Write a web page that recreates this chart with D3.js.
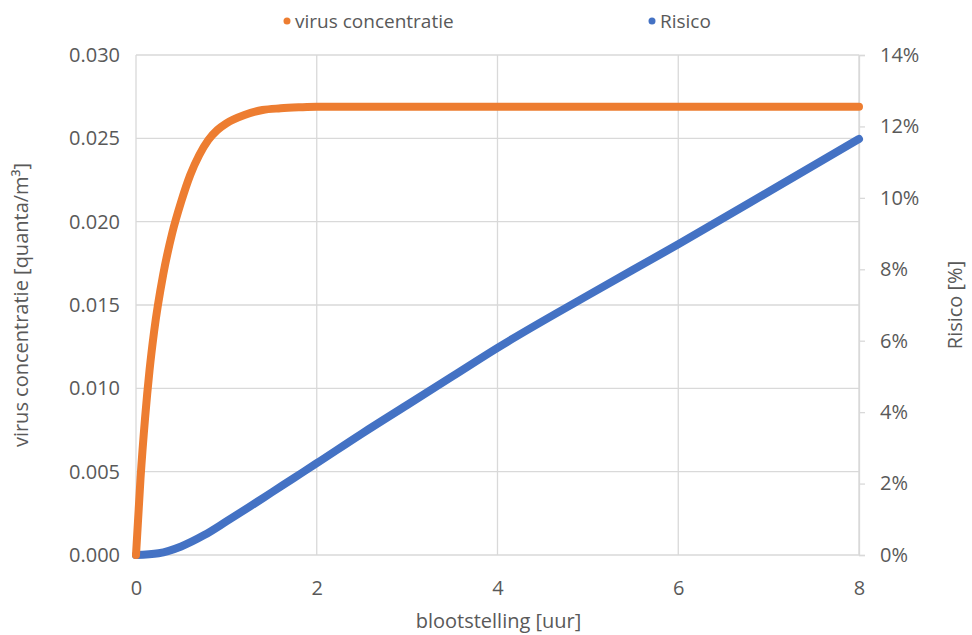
<!DOCTYPE html>
<html>
<head>
<meta charset="utf-8">
<script src="https://cdn.jsdelivr.net/npm/d3@7"></script>
<style>
html,body{margin:0;padding:0;background:#fff;}
svg{display:block;}
text{font-family:"Open Sans",sans-serif;fill:#595959;}
</style>
</head>
<body>
<svg id="chart" width="972" height="635"></svg>
<script>
// exposure time [h]
const concTime = [0, 0.05, 0.1, 0.15, 0.2, 0.3, 0.4, 0.5, 0.6, 0.7, 0.8, 0.9, 1.0, 1.2, 1.4, 1.6, 1.8, 2.0, 2.5, 3, 4, 5, 6, 7, 8];
// virus concentration [quanta/m3]
const concValues = [0, 0.0046, 0.0082, 0.0111, 0.0134, 0.0168, 0.0193, 0.0212, 0.0228, 0.0240, 0.0249, 0.0255, 0.0259, 0.0264, 0.0267, 0.0268, 0.02686, 0.0269, 0.0269, 0.0269, 0.0269, 0.0269, 0.0269, 0.0269, 0.0269];
const riskTime = [0, 0.25, 0.5, 0.75, 1.0, 1.25, 1.5, 1.75, 2, 2.5, 3, 3.5, 4, 5, 6, 7, 8];
// risk [%]
const riskValues = [0, 0.05, 0.24, 0.55, 0.94, 1.34, 1.75, 2.16, 2.57, 3.4, 4.2, 5.0, 5.8, 7.27, 8.7, 10.17, 11.65];

const xTicks = [0, 2, 4, 6, 8];
const leftTicks = [0, 0.005, 0.010, 0.015, 0.020, 0.025, 0.030];
const rightTicks = [0, 2, 4, 6, 8, 10, 12, 14];
const seriesNames = ["virus concentratie", "Risico"];
const seriesColors = ["#ED7D31", "#4472C4"];
const xTitle = "blootstelling [uur]";
const leftTitle = "virus concentratie [quanta/m³]";
const rightTitle = "Risico [%]";

const svg = d3.select("#chart");
const L = 136, R = 859, T = 55, B = 555;

const x = d3.scaleLinear().domain([0, 8]).range([L, R]);
const yL = d3.scaleLinear().domain([0, 0.030]).range([B, T]);
const yR = d3.scaleLinear().domain([0, 14]).range([B, T]);

const grid = svg.append("g");
grid.selectAll("line.h").data(leftTicks).join("line")
  .attr("x1", L).attr("x2", R)
  .attr("y1", d => yL(d)).attr("y2", d => yL(d))
  .attr("stroke", "#d9d9d9").attr("stroke-width", 1.3);
grid.selectAll("line.v").data(xTicks).join("line")
  .attr("y1", T).attr("y2", B)
  .attr("x1", d => x(d)).attr("x2", d => x(d))
  .attr("stroke", "#d9d9d9").attr("stroke-width", 1.3);

const fs = 20, fsLegend = 19;
const gl = svg.append("g").attr("transform", `translate(${L},0)`)
  .call(d3.axisLeft(yL).tickValues(leftTicks).tickFormat(d3.format(".3f")).tickSize(0).tickPadding(16));
gl.select(".domain").remove();
gl.selectAll("text").attr("font-size", fs).attr("font-family", "Open Sans").attr("fill", "#595959");

const gr = svg.append("g").attr("transform", `translate(${R},0)`)
  .call(d3.axisRight(yR).tickValues(rightTicks).tickFormat(d => d + "%").tickSize(6).tickPadding(15));
gr.select(".domain").attr("stroke", "#d9d9d9").attr("stroke-width", 1.3);
gr.selectAll(".tick line").attr("stroke", "#d9d9d9").attr("stroke-width", 1.3);
gr.selectAll("text").attr("font-size", fs).attr("font-family", "Open Sans").attr("fill", "#595959");

const gb = svg.append("g").attr("transform", `translate(0,${B})`)
  .call(d3.axisBottom(x).tickValues(xTicks).tickFormat(d3.format("d")).tickSize(0).tickPadding(26));
gb.select(".domain").remove();
gb.selectAll("text").attr("font-size", fs).attr("font-family", "Open Sans").attr("fill", "#595959");

svg.append("text").attr("x", (L + R) / 2 + 1).attr("y", 628).attr("text-anchor", "middle")
  .attr("font-size", fs).text(xTitle);
svg.append("text").attr("transform", `translate(28,${(T + B) / 2}) rotate(-90)`).attr("text-anchor", "middle")
  .attr("font-size", fs).text(leftTitle);
svg.append("text").attr("transform", `translate(962,${(T + B) / 2}) rotate(-90)`).attr("text-anchor", "middle")
  .attr("font-size", fs).text(rightTitle);

const concData = concTime.map((t, i) => [t, concValues[i]]);
const riskData = riskTime.map((t, i) => [t, riskValues[i]]);
const lineL = d3.line().x(d => x(d[0])).y(d => yL(d[1])).curve(d3.curveMonotoneX);
const lineR = d3.line().x(d => x(d[0])).y(d => yR(d[1])).curve(d3.curveMonotoneX);

svg.append("path").datum(riskData).attr("d", lineR)
  .attr("fill", "none").attr("stroke", seriesColors[1]).attr("stroke-width", 8)
  .attr("stroke-linecap", "round").attr("stroke-linejoin", "round");
svg.append("path").datum(concData).attr("d", lineL)
  .attr("fill", "none").attr("stroke", seriesColors[0]).attr("stroke-width", 8)
  .attr("stroke-linecap", "round").attr("stroke-linejoin", "round");

const legendX = [287, 652];
const lg = svg.append("g");
seriesNames.forEach((name, i) => {
  lg.append("circle").attr("cx", legendX[i]).attr("cy", 21).attr("r", 3.5).attr("fill", seriesColors[i]);
  lg.append("text").attr("x", legendX[i] + 8).attr("y", 28).attr("font-size", fsLegend).text(name);
});
</script>
</body>
</html>
